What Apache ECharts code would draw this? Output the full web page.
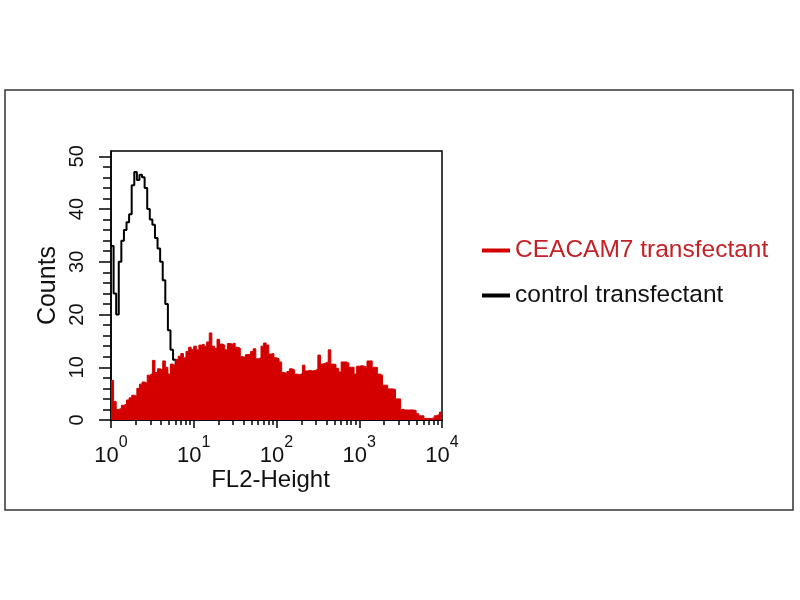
<!DOCTYPE html>
<html>
<head>
<meta charset="utf-8">
<script src="https://cdn.jsdelivr.net/npm/echarts@6/dist/echarts.min.js"></script>
<style>
  html, body { margin: 0; padding: 0; background: #fff; }
  #chart { width: 800px; height: 600px; }
</style>
</head>
<body>
<div id="chart"></div>
<script>
// histogram channels: 128 bins over 4 decades (10^0 .. 10^4)
var decades = 4;
var yTicks = [0, 10, 20, 30, 40, 50];
var xTicks = [0, 1, 2, 3, 4];

// CEACAM7 transfectant counts per bin
var ceacam7 = [
    7.5, 3.5, 2.0, 2.2, 2.8, 3.0, 3.8, 4.2, 4.7, 4.5,
    6.0, 6.8, 7.2, 7.0, 8.5, 8.8, 11.3, 9.0, 9.7, 9.5,
    11.2, 10.0, 8.7, 10.6, 10.3, 11.5, 12.1, 12.6, 11.8, 13.0,
    13.8, 13.4, 14.0, 13.3, 14.2, 14.4, 14.0, 14.8, 16.5, 14.0,
    13.6, 15.3, 14.4, 14.2, 13.3, 14.5, 14.4, 14.6, 13.8, 13.6,
    12.0, 11.9, 12.4, 12.5, 13.0, 13.5, 11.6, 11.8, 14.0, 14.6,
    14.2, 12.5, 12.6, 11.8, 11.6, 11.0, 9.0, 8.8, 9.2, 9.7,
    9.5, 8.7, 8.6, 8.8, 10.4, 9.3, 9.4, 9.3, 9.4, 9.6,
    12.3, 10.6, 10.8, 11.0, 13.3, 10.6, 10.5, 9.8, 9.1, 11.0,
    11.0, 10.8, 10.0, 10.0, 8.7, 10.2, 10.3, 10.2, 10.0, 11.2,
    11.2, 10.0, 10.0, 8.7, 8.5, 6.6, 6.6, 5.9, 5.9, 5.8,
    4.0, 4.0, 2.0, 1.9, 1.9, 1.9, 1.9, 1.8, 1.2, 0.8,
    0.8, 0.3, 0.3, 0.3, 0.4, 0.8, 1.1, 1.5
];

// control transfectant counts per bin
var control = [
    33, 24, 20, 30, 34, 36, 37.5, 39, 44.5, 47,
    45.5, 46.5, 46, 44, 40, 38, 37, 34.5, 32.5, 30,
    26.5, 22, 17, 13.3, 11.4, 9, 7, 5.5, 4.5, 3.5,
    3, 2.5, 2, 1.5, 1.2, 1, 0.8, 0.6, 0.5, 0.4,
    0.3, 0, 0, 0, 0, 0, 0, 0, 0, 0,
    0, 0, 0, 0, 0, 0, 0, 0, 0, 0,
    0, 0, 0, 0, 0, 0, 0, 0, 0, 0,
    0, 0, 0, 0, 0, 0, 0, 0, 0, 0,
    0, 0, 0, 0, 0, 0, 0, 0, 0, 0,
    0, 0, 0, 0, 0, 0, 0, 0, 0, 0,
    0, 0, 0, 0, 0, 0, 0, 0, 0, 0,
    0, 0, 0, 0, 0, 0, 0, 0, 0, 0,
    0, 0, 0, 0, 0, 0, 0, 0
];

function toSteps(vals) {
    var pts = vals.map(function (v, i) { return [i * decades / vals.length, v]; });
    pts.push([decades, vals[vals.length - 1]]);
    return pts;
}

// log minor ticks (2..9 in each decade)
var xMinor = [];
for (var d = 0; d < decades; d++) {
    for (var k = 2; k <= 9; k++) xMinor.push(d + Math.log10(k));
}
var yMinor = [];
for (var v = 0; v <= 50; v += 2) {
    if (v % 10 !== 0) yMinor.push(v);
}

var font = "'Liberation Sans', Arial, sans-serif";
var myChart = echarts.init(document.getElementById('chart'));

var option = {
    backgroundColor: '#fff',
    animation: false,
    textStyle: { fontFamily: font },
    graphic: [{
        type: 'rect',
        shape: { x: 5, y: 90, width: 788, height: 420 },
        style: { fill: 'none', stroke: '#333', lineWidth: 1.5 },
        silent: true
    }],
    grid: {
        left: 111, top: 151, width: 331, height: 269,
        show: true, borderColor: '#000', borderWidth: 1.5
    },
    legend: {
        orient: 'vertical',
        left: 477, top: 233,
        icon: 'rect',
        itemWidth: 28, itemHeight: 4,
        itemGap: 20,
        textStyle: { fontFamily: font, fontSize: 24.5, lineHeight: 25 },
        data: [
            { name: 'CEACAM7 transfectant', textStyle: { color: '#c42127' } },
            { name: 'control transfectant', textStyle: { color: '#111' } }
        ]
    },
    xAxis: [{
        type: 'value',
        min: 0, max: decades,
        name: 'FL2-Height',
        nameLocation: 'middle',
        nameGap: 47,
        nameTextStyle: { color: '#111', fontSize: 24, fontFamily: font, padding: [0, 12, 0, 0] },
        axisLine: { lineStyle: { color: '#000', width: 1.5 } },
        axisTick: { customValues: xTicks, length: 8, lineStyle: { color: '#000', width: 1.5 } },
        axisLabel: {
            customValues: xTicks,
            margin: 15,
            formatter: function (val) { return '{b|10}{s|' + val + '}'; },
            rich: {
                b: { fontSize: 22, color: '#111', fontFamily: font, padding: [10, 0, 0, 0] },
                s: { fontSize: 16, color: '#111', fontFamily: font, verticalAlign: 'top' }
            }
        },
        splitLine: { show: false }
    }, {
        type: 'value',
        min: 0, max: decades,
        position: 'bottom',
        axisLine: { show: false },
        axisTick: { customValues: xMinor, length: 5, lineStyle: { color: '#000', width: 1.5 } },
        axisLabel: { show: false },
        splitLine: { show: false }
    }],
    yAxis: [{
        type: 'value',
        min: 0, max: 51,
        name: 'Counts',
        nameLocation: 'middle',
        nameRotate: 90,
        nameGap: 50,
        nameTextStyle: { color: '#111', fontSize: 25, fontFamily: font },
        axisLine: { show: true, lineStyle: { color: '#000', width: 1.5 } },
        axisTick: { show: true, customValues: yTicks, length: 12, lineStyle: { color: '#000', width: 1.5 } },
        axisLabel: {
            customValues: yTicks,
            rotate: 90,
            margin: 24,
            color: '#111',
            fontSize: 20,
            fontFamily: font
        },
        splitLine: { show: false }
    }, {
        type: 'value',
        min: 0, max: 51,
        position: 'left',
        axisLine: { show: false },
        axisTick: { show: true, customValues: yMinor, length: 8, lineStyle: { color: '#000', width: 1.5 } },
        axisLabel: { show: false },
        splitLine: { show: false }
    }],
    series: [{
        name: 'CEACAM7 transfectant',
        type: 'line',
        step: 'end',
        symbol: 'none',
        z: 3,
        color: '#d40000',
        lineStyle: { color: '#d40000', width: 1 },
        areaStyle: { color: '#d40000', opacity: 1 },
        data: toSteps(ceacam7)
    }, {
        name: 'control transfectant',
        type: 'line',
        step: 'end',
        symbol: 'none',
        z: 2,
        color: '#000',
        lineStyle: { color: '#000', width: 2 },
        data: toSteps(control)
    }]
};

myChart.setOption(option);
</script>
</body>
</html>
